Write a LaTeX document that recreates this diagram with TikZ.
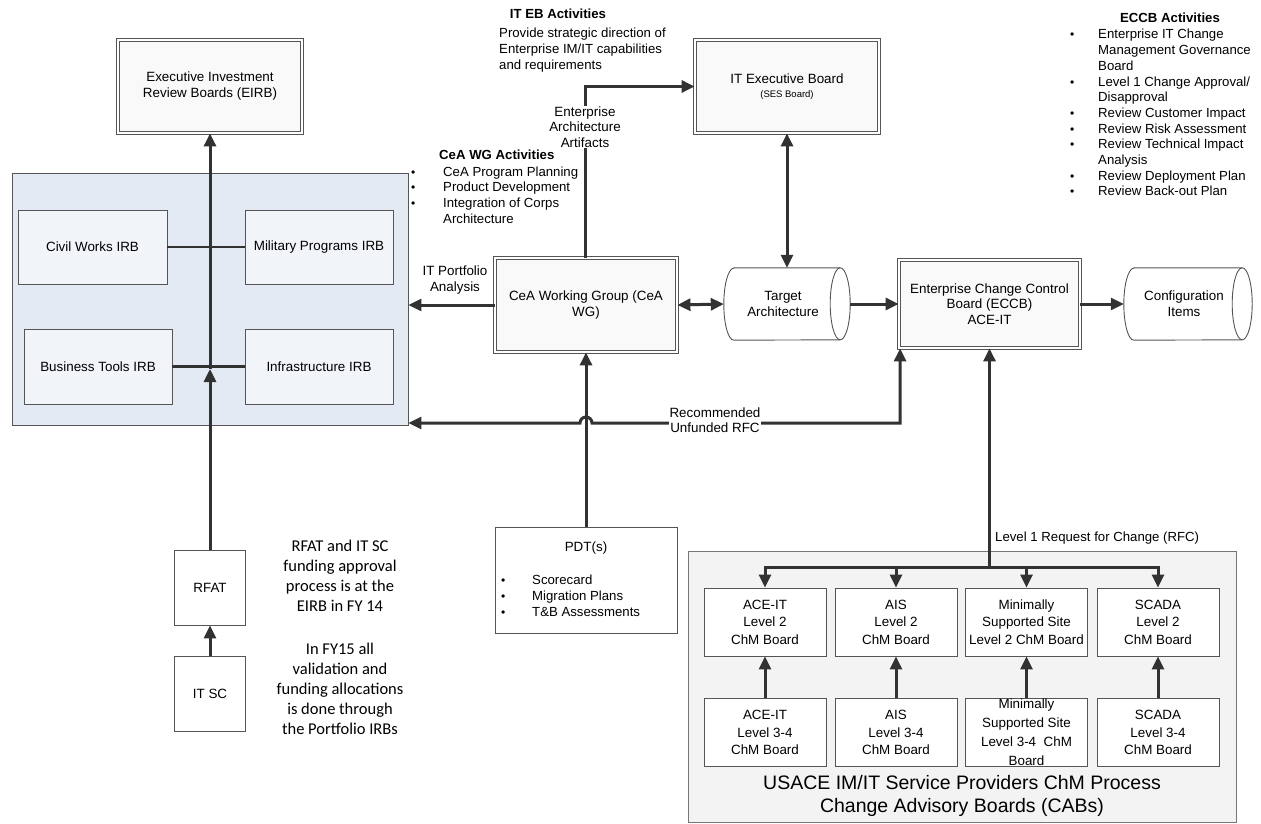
\documentclass[tikz,border=0pt]{standalone}
\usepackage{fontspec}
\setmainfont{Liberation Sans}
\newfontfamily\calib{Carlito}
\usetikzlibrary{arrows.meta}
\newcommand{\fs}[2]{\fontsize{#1}{#2}\selectfont}
\newcommand{\bul}{{\fs{12}{12}\textbullet}}
\definecolor{ln}{RGB}{50,50,50}
\definecolor{bd}{RGB}{85,85,85}
\definecolor{panelc}{RGB}{228,234,244}
\definecolor{irbc}{RGB}{241,244,249}
\definecolor{cabc}{RGB}{243,243,243}
\newcommand{\cylout}[1]{%
  \draw[draw=bd, line width=0.9pt, fill=white] ([xshift=10pt]#1.north west) -- ([xshift=-10pt]#1.north east)
    arc[start angle=90, end angle=-90, x radius=10pt, y radius=36pt] -- ([xshift=10pt]#1.south west)
    arc[start angle=270, end angle=90, x radius=10pt, y radius=36pt] -- cycle;
  \draw[draw=bd, line width=0.9pt] ([xshift=-10pt]#1.north east)
    arc[start angle=90, end angle=270, x radius=10pt, y radius=36pt];}
\begin{document}
\begin{tikzpicture}[x=1pt,y=-1pt,
  box/.style={draw=bd, line width=0.9pt, fill=white, align=center, inner sep=0pt, font=\fs{13.4}{17}},
  irb/.style={box, fill=irbc},
  dbox/.style={draw=bd, line width=0.8pt, double=white, double distance=2.2pt, fill=gray!5, align=center, inner sep=0pt, font=\fs{13.4}{16}},
  lvl/.style={box, minimum width=122pt, minimum height=68pt, font=\fs{13.4}{17.5}},
  conn/.style={draw=ln, line width=3pt},
  arr/.style={conn, -{Triangle[length=13pt,width=12pt]}},
  darr/.style={conn, {Triangle[length=13pt,width=12pt]}-{Triangle[length=13pt,width=12pt]}},
  lab/.style={font=\fs{13.4}{15.5}, align=center, inner sep=1pt},
  txt/.style={inner sep=0pt, font=\fs{13.2}{15.7}},
]
\fill[white] (0,0) rectangle (1261,824);
\useasboundingbox (0,0) rectangle (1261,824);

% left panel
\node[draw=bd, line width=0.9pt, fill=panelc, minimum width=396pt, minimum height=252pt] (panel) at (210,299) {};
\node[irb, minimum width=149pt, minimum height=74pt] (cw) at (92.5,247) {Civil Works IRB};
\node[irb, minimum width=148pt, minimum height=74pt] (mp) at (319,247) {Military Programs IRB};
\node[irb, minimum width=148pt, minimum height=75pt] (bt) at (98,366.5) {Business Tools IRB};
\node[irb, minimum width=148pt, minimum height=75pt] (inf) at (319,366.5) {Infrastructure IRB};

% top boxes
\node[dbox, minimum width=184pt, minimum height=93pt] (eirb) at (210,86.5) {Executive Investment\\Review Boards (EIRB)};
\node[dbox, minimum width=184pt, minimum height=93pt] (iteb) at (787,86.5) {IT Executive Board\\[-2pt]{\fs{9.5}{12}(SES Board)}};
\node[dbox, minimum width=182pt, minimum height=94pt] (cea) at (586,305) {CeA Working Group (CeA\\WG)};
\node[dbox, minimum width=181pt, minimum height=88pt, font=\fs{13.4}{15.5}] (eccb) at (989.5,304) {Enterprise Change Control\\Board (ECCB)\\ACE-IT};

% cylinders
\node[minimum width=126pt, minimum height=72pt, inner sep=0pt] (tgt) at (787,304) {};
\cylout{tgt}
\node[lab, font=\fs{13.4}{16}] (tgtl) at ([xshift=-4pt]tgt.center) {Target\\Architecture};
\node[minimum width=128pt, minimum height=72pt, inner sep=0pt] (cfg) at (1188,304) {};
\cylout{cfg}
\node[lab, font=\fs{13.4}{16}] (cfgl) at ([xshift=-4pt]cfg.center) {Configuration\\Items};

% RFAT / IT SC
\node[box, minimum width=71pt, minimum height=75pt] (rfat) at (210,587.5) {RFAT};
\node[box, minimum width=71pt, minimum height=75pt] (itsc) at (210,693.5) {IT SC};
\node[inner sep=0pt, align=center, anchor=north, font=\calib\fs{16.5}{20}] (notes) at (340,540) {RFAT and IT SC\\funding approval\\process is at the\\EIRB in FY 14\\[23pt]In FY15 all\\validation and\\funding allocations\\is done through\\the Portfolio IRBs};

% PDT
\node[box, minimum width=182pt, minimum height=106pt] (pdt) at (586,580) {};
\node[txt, anchor=base, font=\fs{13.4}{15.7}] (pdtt) at (586,551) {PDT(s)};
\node[txt, anchor=base west, font=\fs{13.2}{16}] (pdtl) at (501,584) {\begin{tabular}[t]{@{}p{31pt}@{}l@{}}\bul & Scorecard\\ \bul & Migration Plans\\ \bul & T\&B Assessments\end{tabular}};

% CAB
\node[draw=bd!80, line width=0.9pt, fill=cabc, minimum width=548pt, minimum height=271pt] (cab) at (962.5,686.5) {};
\node[lvl] (l2a) at (765,622) {ACE-IT\\Level 2\\ChM Board};
\node[lvl] (l2b) at (896,622) {AIS\\Level 2\\ChM Board};
\node[lvl] (l2c) at (1026.5,622) {Minimally\\Supported Site\\Level 2 ChM Board};
\node[lvl] (l2d) at (1158,622) {SCADA\\Level 2\\ChM Board};
\node[lvl] (l3a) at (765,732.5) {ACE-IT\\Level 3-4\\ChM Board};
\node[lvl] (l3b) at (896,732.5) {AIS\\Level 3-4\\ChM Board};
\node[lvl, font=\fs{13.4}{19}] (l3c) at (1026.5,732.5) {Minimally\\Supported Site\\Level 3-4\ \ ChM\\Board};
\node[lvl] (l3d) at (1158,732.5) {SCADA\\Level 3-4\\ChM Board};
\node[align=center, inner sep=0pt, font=\fs{19.5}{23}] (cabt) at (962,796) {USACE IM/IT Service Providers ChM Process\\Change Advisory Boards (CABs)};
\node[txt, anchor=base west, font=\fs{13.2}{15}] (l1lab) at (995,541) {Level 1 Request for Change (RFC)};

% activity texts
\node[txt, anchor=base, font=\bfseries\fs{13.2}{15}] (itebt) at (558,19) {IT EB Activities};
\node[txt, anchor=base west] (itebl) at (499,38) {\begin{tabular}[t]{@{}l@{}}Provide strategic direction of\\ Enterprise IM/IT capabilities\\ and requirements\end{tabular}};
\node[txt, anchor=base west, font=\bfseries\fs{13.2}{15}] (ceat) at (439,160) {CeA WG Activities};
\node[txt, anchor=base west] (ceal) at (411,176) {\begin{tabular}[t]{@{}p{32pt}@{}l@{}}\bul & CeA Program Planning\\ \bul & Product Development\\ \bul & Integration of Corps\\ & Architecture\end{tabular}};
\node[txt, anchor=base, font=\bfseries\fs{13.2}{15}] (eccbt) at (1170,23) {ECCB Activities};
\node[txt, anchor=base west] (eccbl) at (1070,39) {\begin{tabular}[t]{@{}p{28pt}@{}l@{}}\bul & Enterprise IT Change\\ & Management Governance\\ & Board\\ \bul & Level 1 Change Approval/\\ & Disapproval\\ \bul & Review Customer Impact\\ \bul & Review Risk Assessment\\ \bul & Review Technical Impact\\ & Analysis\\ \bul & Review Deployment Plan\\ \bul & Review Back-out Plan\end{tabular}};

% connectors in left panel
\coordinate (j2) at (210,369);
\draw[conn, line width=2.6pt] (cw.east) -- (mp.west);
\draw[conn, line width=2.6pt] (bt.east) -- (inf.west);
\draw[arr] (rfat.north) -- (j2);
\draw[arr] (j2) -- (eirb.south);
\draw[arr] (itsc.north) -- (rfat.south);

% CeA connectors
\draw[arr] (cea.west) -- (cea.west -| panel.east);
\node[lab] (portlab) at (455,280) {IT Portfolio\\Analysis};
\draw[arr] ([xshift=-1pt]cea.north) |- (iteb.west);
\node[lab, fill=white] (ealab) at (585,127) {Enterprise\\Architecture\\Artifacts};
\draw[darr] (cea.east) -- (tgt.west);
\draw[darr] (iteb.south) -- (tgt.north);
\draw[arr] (tgt.east) -- (eccb.west);
\draw[arr] (eccb.east) -- (cfg.west);
\draw[arr] (pdt.north) -- (cea.south);

% recommended unfunded RFC
\coordinate (hopR) at (592,423);
\draw[darr] ([xshift=1.5pt]eccb.south west) |- (hopR) arc[start angle=0, end angle=180, radius=6pt] -- (hopR -| panel.east);
\node[lab, fill=white] (rfclab) at (715,420) {Recommended\\Unfunded RFC};

% level 1 RFC
\coordinate (br) at (eccb.south |- 0,567);
\draw[arr] (br) -- (eccb.south);
\draw[arr] (br) -| (l2a.north);
\draw[arr] (br) -| (l2b.north);
\draw[arr] (br) -| (l2c.north);
\draw[arr] (br) -| (l2d.north);
\draw[arr] (l3a.north) -- (l2a.south);
\draw[arr] (l3b.north) -- (l2b.south);
\draw[arr] (l3c.north) -- (l2c.south);
\draw[arr] (l3d.north) -- (l2d.south);
\end{tikzpicture}
\end{document}
